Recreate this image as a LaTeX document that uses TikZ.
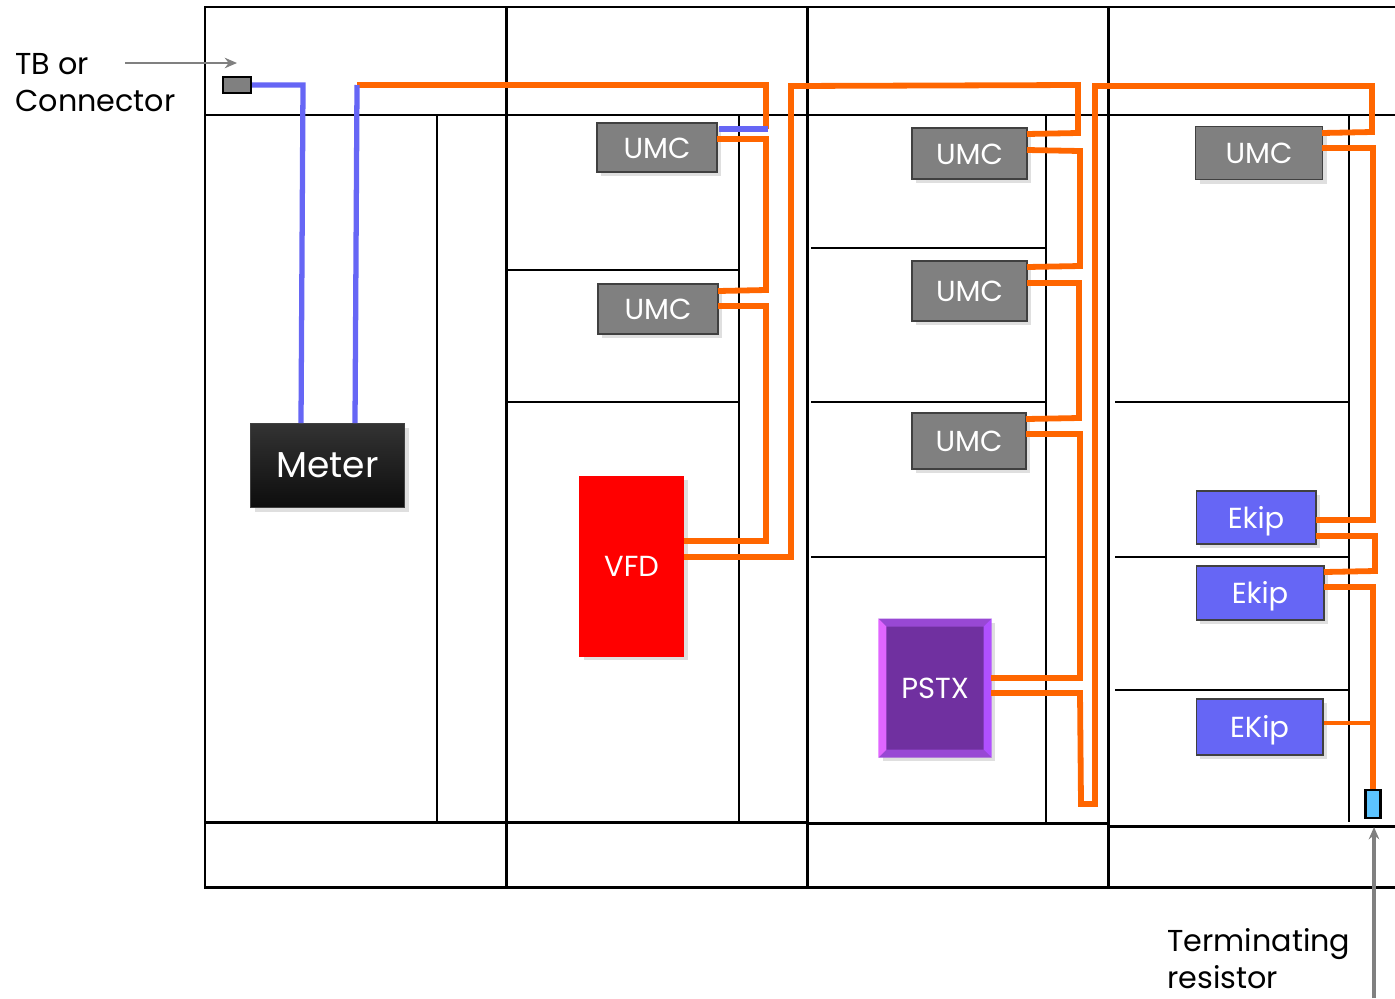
\documentclass[tikz,border=0pt]{standalone}
\usepackage{fontspec}
\setmainfont{Poppins}
\usepackage{xcolor}
\usetikzlibrary{arrows.meta, calc, shadows}
\definecolor{WireOrange}{RGB}{255,102,0}
\definecolor{WireBlue}{RGB}{102,102,245}
\definecolor{UmcGray}{RGB}{128,128,128}
\definecolor{PstxPurple}{RGB}{112,48,160}
\definecolor{BevelFlat}{RGB}{152,72,212}
\definecolor{BevelLeft}{RGB}{224,102,255}
\definecolor{BevelRight}{RGB}{176,80,255}
\definecolor{ResBlue}{RGB}{92,196,255}

\begin{document}
\begin{tikzpicture}[
      x=0.02cm, y=-0.02cm,
      device/.style={rectangle, font=\fontsize{16.5}{20}\selectfont, text=white, align=center,
                     text height=12pt, text depth=0pt,
                     draw=black!75, line width=0.6pt,
                     drop shadow={shadow xshift=2.5pt, shadow yshift=-2.5pt, opacity=0.25}},
      umc/.style={device, fill=UmcGray},
      ekip/.style={device, fill=WireBlue},
      frameline/.style={line width=1.7pt, black},
      innerline/.style={line width=1.3pt, black},
      wire/.style={line width=3.3pt, WireOrange, line join=miter},
      buswire/.style={line width=2.8pt, WireOrange, line join=miter},
      bluewire/.style={line width=3pt, WireBlue},
      callout/.style={UmcGray, -{Stealth[length=7pt, width=6pt]}},
      lbl/.style={font=\fontsize{17.2}{21}\selectfont, align=left, inner sep=0pt}
    ]
    \useasboundingbox (0,0) rectangle (1395,998);

    % Outer frame
    \draw[frameline] (1395,7) -- (205,7) -- (205,887) -- (1395,887);
    \draw[frameline] (205,115) -- (1395,115);
    \draw[frameline] (205,822) -- (807,822);
    \draw[frameline] (807,823) -- (1108,823);
    \draw[frameline] (1108,826) -- (1395,826);
    \foreach \x in {506,807,1108}
      \draw[frameline] (\x,7) -- (\x,887);

    % Column dividers
    \foreach \x in {437,739,1046,1349}
      \draw[innerline] (\x,115) -- (\x,822);

    % Shelf lines
    \foreach \y in {270,402}
      \draw[innerline] (506,\y) -- (739,\y);
    \foreach \y in {248,402,557}
      \draw[innerline] (811,\y) -- (1046,\y);
    \foreach \y in {402,557,690}
      \draw[innerline] (1115,\y) -- (1349,\y);

    % Devices
    \node[device, fill=black!85, top color=black!80, bottom color=black!95,
          minimum width=3.08cm, minimum height=1.68cm, text height=14pt,
          font=\fontsize{20.5}{24}\selectfont] (meter) at (327.5,465.5) {Meter};
    \node[umc, minimum width=2.4cm, minimum height=0.98cm] (umcA) at (657,147.5) {UMC};
    \node[umc, minimum width=2.4cm, minimum height=1.0cm] (umcB) at (658,309) {UMC};
    \node[device, fill=red, draw=red, minimum width=2.08cm, minimum height=3.6cm] (vfd) at (631.5,566) {VFD};
    \node[umc, minimum width=2.3cm, minimum height=1.02cm] (umcC) at (969.5,153.5) {UMC};
    \node[umc, minimum width=2.3cm, minimum height=1.2cm] (umcD) at (969.5,291) {UMC};
    \node[umc, minimum width=2.28cm, minimum height=1.12cm] (umcE) at (969,441) {UMC};
    \node[device, fill=PstxPurple, draw=none, minimum width=2.24cm, minimum height=2.76cm] (pstx) at (935,688) {PSTX};
    \node[umc, minimum width=2.54cm, minimum height=1.06cm] (umcF) at (1259,153) {UMC};
    \node[ekip, minimum width=2.4cm, minimum height=1.06cm] (ekipA) at (1256,517.5) {Ekip};
    \node[ekip, minimum width=2.56cm, minimum height=1.08cm] (ekipB) at (1260,593) {Ekip};
    \node[ekip, minimum width=2.54cm, minimum height=1.12cm] (ekipC) at (1259.5,727) {EKip};

    % PSTX bevel
    \fill[BevelFlat] (pstx.north west) -- (pstx.north east)
      -- ([shift={(-8,8)}]pstx.north east) -- ([shift={(8,8)}]pstx.north west) -- cycle;
    \fill[BevelFlat] (pstx.south west) -- (pstx.south east)
      -- ([shift={(-8,-8)}]pstx.south east) -- ([shift={(8,-8)}]pstx.south west) -- cycle;
    \fill[BevelLeft] (pstx.north west) -- (pstx.south west)
      -- ([shift={(8,-8)}]pstx.south west) -- ([shift={(8,8)}]pstx.north west) -- cycle;
    \fill[BevelRight] (pstx.north east) -- (pstx.south east)
      -- ([shift={(-8,-8)}]pstx.south east) -- ([shift={(-8,8)}]pstx.north east) -- cycle;

    % Connector and resistor
    \node[rectangle, fill=UmcGray, draw=black, line width=1.3pt, inner sep=0pt,
          minimum width=0.56cm, minimum height=0.32cm] (tb) at (237,85) {};

    % Labels
    \node[lbl, anchor=north west] (tblbl) at (15,53) {TB or\\Connector};
    \node[lbl, anchor=north west] (reslbl) at (1167,928) {Terminating\\resistor};
    \coordinate (tbarrow) at (125,63);
    \coordinate (tbtip) at (237,63);
    \coordinate (restail) at (1374,998);
    \draw[callout, line width=1pt] (tbarrow) -- (tbtip);
    \draw[callout, line width=2pt] (restail) -- (1374,827);

    % Meter wires
    \draw[bluewire] (tb.east) -- (303,85) -- (301,423);
    \coordinate (feed) at (357,85);
    \draw[wire] (feed) -- (766,85) -- (766,129);
    \draw[bluewire] (355,423) -- (feed);
    \coordinate (umcAtop) at (768,129);
    \draw[bluewire] (umcAtop) -- (719,129);

    % Second section
    \draw[wire] (717,139) -- (766,139) -- (766,290) -- (718,291);
    \draw[wire] (718,306) -- (766,306) -- (766,541) -- (684,541);
    \draw[wire] (684,557) -- (791,557) -- (791,86) -- (1078,85) -- (1078,133) -- (1027,134);

    % Third section
    \draw[wire] (1027,150) -- (1080,151) -- (1080,266) -- (1027,267);
    \draw[wire] (1027,283) -- (1079,283) -- (1079,418) -- (1026,419);
    \draw[wire] (1026,434) -- (1080,434) -- (1080,678) -- (991,678);
    \draw[wire] (991,693) -- (1080,693) -- (1081,804) -- (1095,804) -- (1095,86) -- (1372,86)
      -- (1372,132) -- (1322,133);

    % Fourth section
    \draw[wire] (1322,148) -- (1373,148) -- (1373,520) -- (1316,520);
    \draw[wire] (1316,536) -- (1375,536) -- (1375,571) -- (1324,572);
    \draw[wire] (1324,587) -- (1373,587) -- (1373,790);
    \draw[buswire] (ekipC.east |- 0,723) -- (1373,723);

    \node[rectangle, fill=ResBlue, draw=black, line width=1.3pt, inner sep=0pt,
          minimum width=0.3cm, minimum height=0.56cm] (res) at (1373,804) {};
  \end{tikzpicture}
\end{document}
